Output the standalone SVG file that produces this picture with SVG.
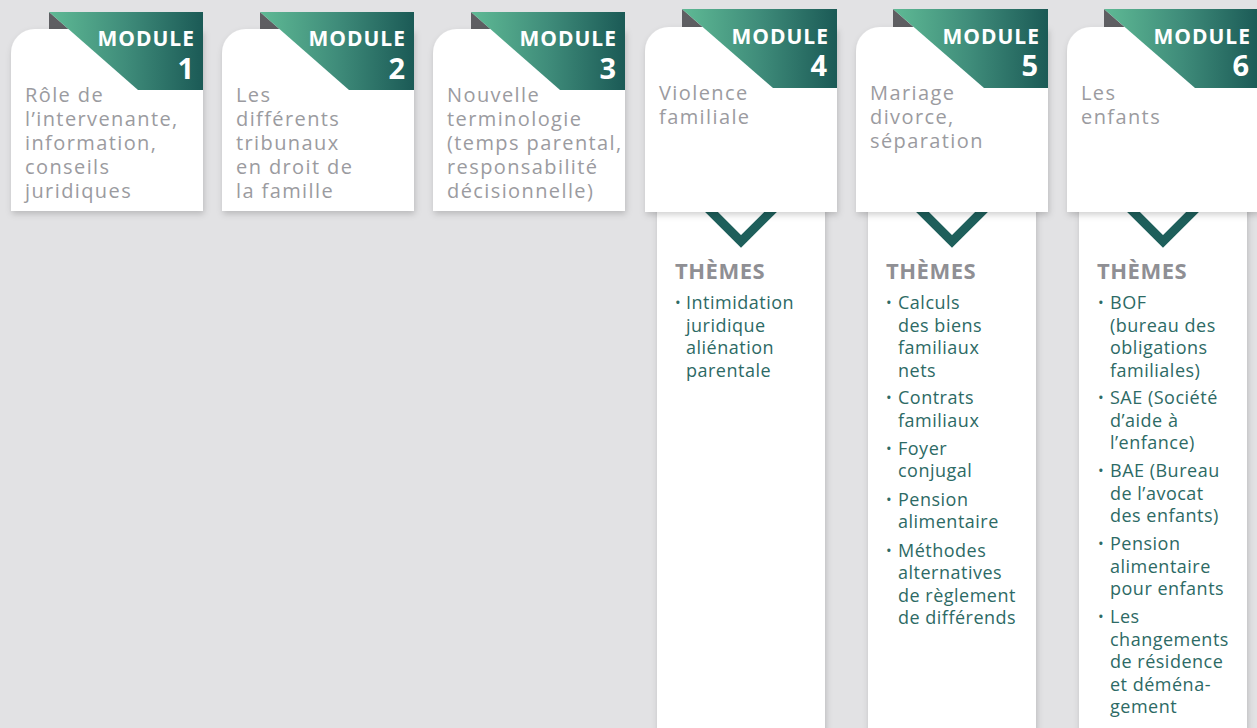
<svg xmlns="http://www.w3.org/2000/svg" width="1257" height="728" viewBox="0 0 1257 728">
<defs>
<linearGradient id="g" x1="0" y1="0" x2="1" y2="0">
<stop offset="0" stop-color="#5FBA95"/>
<stop offset="0.5" stop-color="#3F8C7A"/>
<stop offset="1" stop-color="#1B5A56"/>
</linearGradient>
<filter id="sh" x="-10%" y="-10%" width="125%" height="125%">
<feDropShadow dx="1" dy="3" stdDeviation="3" flood-color="#000" flood-opacity="0.18"/>
</filter>
<style>
.card{fill:#fff;filter:url(#sh)}
.col{fill:#fff;filter:url(#sh)}
.fold{fill:#5E5E62}
.ban{fill:url(#g)}
.mod{font-family:"Open Sans","Noto Sans",sans-serif;font-weight:700;fill:#fff;font-size:21px;letter-spacing:1px;text-anchor:end}
.num{font-family:"Open Sans","Noto Sans",sans-serif;font-weight:700;fill:#fff;font-size:29px;text-anchor:end}
.ct{font-family:"Open Sans","Noto Sans",sans-serif;fill:#9B9BA0;font-size:20px;letter-spacing:1.4px}
.th{font-family:"Open Sans","Noto Sans",sans-serif;font-weight:700;fill:#8F8F94;font-size:22px;letter-spacing:0.5px}
.it{font-family:"Open Sans","Noto Sans",sans-serif;fill:#2D6A65;font-size:18px;letter-spacing:0.5px}
.bu{font-family:"Open Sans","Noto Sans",sans-serif;fill:#2D6A65;font-size:15px}
.chev{fill:none;stroke:#1E5F5B;stroke-width:9}
</style>
</defs>
<rect width="1257" height="728" fill="#E2E2E4"/>

<g id="themes-4">
<rect class="col" x="657" y="200" width="168" height="540"/>
</g>
<g id="themes-5">
<rect class="col" x="868" y="200" width="168" height="540"/>
</g>
<g id="themes-6">
<rect class="col" x="1079" y="200" width="168" height="540"/>
</g>

<g id="connectors">
<polyline class="chev" points="703,203.5 741,241.5 779,203.5"/>
<polyline class="chev" points="914,203.5 952,241.5 990,203.5"/>
<polyline class="chev" points="1125,203.5 1163,241.5 1201,203.5"/>
</g>

<g id="themes-4-text">
<text class="th" x="675" y="279">THÈMES</text>
<text class="bu" x="675" y="308">•</text>
<text class="it" x="686"><tspan x="686" y="309">Intimidation</tspan><tspan x="686" y="331.5">juridique</tspan><tspan x="686" y="354">aliénation</tspan><tspan x="686" y="376.5">parentale</tspan></text>
</g>
<g id="themes-5-text">
<text class="th" x="886" y="279">THÈMES</text>
<text class="bu"><tspan x="886" y="308">•</tspan><tspan x="886" y="403">•</tspan><tspan x="886" y="453.5">•</tspan><tspan x="886" y="504.5">•</tspan><tspan x="886" y="555.5">•</tspan></text>
<text class="it"><tspan x="898" y="309">Calculs</tspan><tspan x="898" y="331.5">des biens</tspan><tspan x="898" y="354">familiaux</tspan><tspan x="898" y="376.5">nets</tspan><tspan x="898" y="404">Contrats</tspan><tspan x="898" y="426.5">familiaux</tspan><tspan x="898" y="454.5">Foyer</tspan><tspan x="898" y="477">conjugal</tspan><tspan x="898" y="505.5">Pension</tspan><tspan x="898" y="528">alimentaire</tspan><tspan x="898" y="556.5">Méthodes</tspan><tspan x="898" y="579">alternatives</tspan><tspan x="898" y="601.5">de règlement</tspan><tspan x="898" y="624">de différends</tspan></text>
</g>
<g id="themes-6-text">
<text class="th" x="1097" y="279">THÈMES</text>
<text class="bu"><tspan x="1098" y="308">•</tspan><tspan x="1098" y="403">•</tspan><tspan x="1098" y="476">•</tspan><tspan x="1098" y="549">•</tspan><tspan x="1098" y="622">•</tspan></text>
<text class="it"><tspan x="1110" y="309">BOF</tspan><tspan x="1110" y="331.5">(bureau des</tspan><tspan x="1110" y="354">obligations</tspan><tspan x="1110" y="376.5">familiales)</tspan><tspan x="1110" y="404">SAE (Société</tspan><tspan x="1110" y="426.5">d’aide à</tspan><tspan x="1110" y="449">l’enfance)</tspan><tspan x="1110" y="477">BAE (Bureau</tspan><tspan x="1110" y="499.5">de l’avocat</tspan><tspan x="1110" y="522">des enfants)</tspan><tspan x="1110" y="550">Pension</tspan><tspan x="1110" y="572.5">alimentaire</tspan><tspan x="1110" y="595">pour enfants</tspan><tspan x="1110" y="623">Les</tspan><tspan x="1110" y="645.5">changements</tspan><tspan x="1110" y="668">de résidence</tspan><tspan x="1110" y="690.5">et déména-</tspan><tspan x="1110" y="713">gement</tspan></text>
</g>

<g id="module-1">
<polygon class="fold" points="49,12 68.4,29 49,29"/>
<path class="card" d="M11,211 V53 A24 24 0 0 1 35,29 H203 V211 Z"/>
<polygon class="ban" points="49,12 203,12 203,90 138,90"/>
<text class="mod" x="195" y="46">MODULE</text>
<text class="num" x="194" y="79">1</text>
<text class="ct"><tspan x="25" y="102">Rôle de</tspan><tspan x="25" y="126">l’intervenante,</tspan><tspan x="25" y="150">information,</tspan><tspan x="25" y="174">conseils</tspan><tspan x="25" y="198">juridiques</tspan></text>
</g>

<g id="module-2">
<polygon class="fold" points="260,12 279.4,29 260,29"/>
<path class="card" d="M222,211 V53 A24 24 0 0 1 246,29 H414 V211 Z"/>
<polygon class="ban" points="260,12 414,12 414,90 349,90"/>
<text class="mod" x="406" y="46">MODULE</text>
<text class="num" x="405" y="79">2</text>
<text class="ct"><tspan x="236" y="102">Les</tspan><tspan x="236" y="126">différents</tspan><tspan x="236" y="150">tribunaux</tspan><tspan x="236" y="174">en droit de</tspan><tspan x="236" y="198">la famille</tspan></text>
</g>

<g id="module-3">
<polygon class="fold" points="471,12 490.4,29 471,29"/>
<path class="card" d="M433,211 V53 A24 24 0 0 1 457,29 H625 V211 Z"/>
<polygon class="ban" points="471,12 625,12 625,90 560,90"/>
<text class="mod" x="617" y="46">MODULE</text>
<text class="num" x="616" y="79">3</text>
<text class="ct"><tspan x="447" y="102">Nouvelle</tspan><tspan x="447" y="126">terminologie</tspan><tspan x="447" y="150">(temps parental,</tspan><tspan x="447" y="174">responsabilité</tspan><tspan x="447" y="198">décisionnelle)</tspan></text>
</g>

<g id="module-4">
<polygon class="fold" points="682,9 702.5,27 682,27"/>
<path class="card" d="M645,212 V51 A24 24 0 0 1 669,27 H837 V212 Z"/>
<polygon class="ban" points="682,9 837,9 837,88 773,88"/>
<text class="mod" x="829" y="43.5">MODULE</text>
<text class="num" x="827" y="76">4</text>
<text class="ct"><tspan x="659" y="100">Violence</tspan><tspan x="659" y="124">familiale</tspan></text>
</g>

<g id="module-5">
<polygon class="fold" points="893,9 913.5,27 893,27"/>
<path class="card" d="M856,212 V51 A24 24 0 0 1 880,27 H1048 V212 Z"/>
<polygon class="ban" points="893,9 1048,9 1048,88 984,88"/>
<text class="mod" x="1040" y="43.5">MODULE</text>
<text class="num" x="1038" y="76">5</text>
<text class="ct"><tspan x="870" y="100">Mariage</tspan><tspan x="870" y="124">divorce,</tspan><tspan x="870" y="148">séparation</tspan></text>
</g>

<g id="module-6">
<polygon class="fold" points="1104,9 1124.5,27 1104,27"/>
<path class="card" d="M1067,212 V51 A24 24 0 0 1 1091,27 H1259 V212 Z"/>
<polygon class="ban" points="1104,9 1259,9 1259,88 1195,88"/>
<text class="mod" x="1251" y="43.5">MODULE</text>
<text class="num" x="1249" y="76">6</text>
<text class="ct"><tspan x="1081" y="100">Les</tspan><tspan x="1081" y="124">enfants</tspan></text>
</g>
</svg>
